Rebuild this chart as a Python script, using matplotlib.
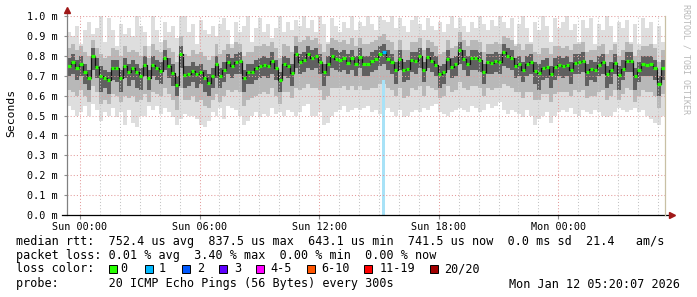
import matplotlib
matplotlib.use('Agg')
import matplotlib.pyplot as plt
import numpy as np
from matplotlib.patches import Rectangle

# ---------------- data ----------------
start_hour = -0.65          # hours relative to Sun 00:00
step_hours = 0.2            # 12 minute consolidation steps

median = [
    0.75, 0.77, 0.74, 0.76, 0.72, 0.69, 0.80, 0.745, 0.70, 0.69,
    0.68, 0.74, 0.74, 0.69, 0.75, 0.72, 0.74, 0.72, 0.70, 0.755,
    0.69, 0.755, 0.74, 0.725, 0.79, 0.75, 0.715, 0.655, 0.81, 0.705,
    0.71, 0.725, 0.71, 0.72, 0.69, 0.665, 0.70, 0.76, 0.70, 0.73,
    0.77, 0.75, 0.77, 0.775, 0.69, 0.72, 0.72, 0.74, 0.75, 0.755,
    0.75, 0.775, 0.74, 0.68, 0.76, 0.75, 0.715, 0.81, 0.77, 0.78,
    0.81, 0.79, 0.80, 0.77, 0.72, 0.76, 0.80, 0.785, 0.78, 0.79,
    0.765, 0.79, 0.76, 0.795, 0.76, 0.76, 0.775, 0.785, 0.81, 0.82,
    0.785, 0.77, 0.73, 0.785, 0.73, 0.735, 0.78, 0.775, 0.80, 0.73,
    0.795, 0.775, 0.755, 0.71, 0.72, 0.785, 0.745, 0.76, 0.83, 0.785,
    0.76, 0.79, 0.787, 0.78, 0.72, 0.77, 0.765, 0.775, 0.77, 0.82,
    0.80, 0.79, 0.75, 0.76, 0.73, 0.76, 0.77, 0.725, 0.715, 0.74,
    0.745, 0.71, 0.745, 0.755, 0.75, 0.755, 0.73, 0.765, 0.77, 0.775,
    0.72, 0.735, 0.73, 0.755, 0.77, 0.71, 0.73, 0.765, 0.705, 0.735,
    0.775, 0.775, 0.70, 0.73, 0.76, 0.754, 0.76, 0.74, 0.66, 0.74,
]

ping_min = [
    0.55, 0.53, 0.50, 0.52, 0.55, 0.50, 0.56, 0.53, 0.47, 0.52,
    0.50, 0.54, 0.49, 0.52, 0.45, 0.53, 0.46, 0.44, 0.50, 0.50,
    0.55, 0.53, 0.55, 0.51, 0.54, 0.52, 0.49, 0.45, 0.48, 0.51,
    0.50, 0.50, 0.48, 0.45, 0.44, 0.47, 0.52, 0.50, 0.54, 0.48,
    0.55, 0.54, 0.53, 0.50, 0.45, 0.47, 0.50, 0.52, 0.49, 0.51,
    0.50, 0.54, 0.51, 0.52, 0.50, 0.53, 0.52, 0.50, 0.52, 0.55,
    0.56, 0.50, 0.50, 0.52, 0.45, 0.46, 0.50, 0.52, 0.53, 0.55,
    0.52, 0.53, 0.54, 0.53, 0.54, 0.55, 0.52, 0.53, 0.51, 0.53,
    0.54, 0.52, 0.50, 0.53, 0.49, 0.50, 0.52, 0.53, 0.52, 0.54,
    0.53, 0.55, 0.56, 0.52, 0.51, 0.50, 0.52, 0.53, 0.54, 0.53,
    0.52, 0.55, 0.54, 0.52, 0.53, 0.56, 0.54, 0.55, 0.57, 0.53,
    0.51, 0.53, 0.52, 0.51, 0.49, 0.53, 0.50, 0.45, 0.48, 0.50,
    0.52, 0.46, 0.50, 0.52, 0.53, 0.52, 0.54, 0.51, 0.50, 0.53,
    0.52, 0.51, 0.53, 0.52, 0.50, 0.49, 0.50, 0.52, 0.54, 0.53,
    0.52, 0.53, 0.54, 0.52, 0.53, 0.50, 0.48, 0.46, 0.45, 0.50,
]

ping_max = [
    0.92, 0.90, 0.95, 0.86, 0.93, 0.97, 0.91, 0.94, 1.00, 0.87,
    0.99, 0.93, 0.85, 0.96, 0.91, 0.94, 0.90, 1.00, 0.95, 0.92,
    0.85, 1.00, 0.93, 0.87, 0.97, 0.92, 0.95, 0.89, 1.00, 1.00,
    0.92, 0.96, 0.86, 0.98, 0.93, 0.91, 0.95, 0.90, 0.96, 0.99,
    0.93, 0.86, 0.97, 0.92, 0.95, 1.00, 0.87, 0.94, 0.99, 0.92,
    0.96, 0.89, 0.94, 1.00, 0.92, 0.97, 0.93, 0.98, 0.95, 1.00,
    0.94, 0.98, 0.92, 1.00, 0.96, 0.87, 0.99, 0.95, 0.92, 0.97,
    0.94, 1.00, 0.93, 0.97, 0.95, 1.00, 0.96, 0.93, 1.00, 0.98,
    0.97, 1.00, 0.94, 0.99, 0.95, 0.92, 0.98, 1.00, 0.96, 0.93,
    0.99, 0.95, 0.93, 0.97, 0.92, 0.96, 1.00, 0.94, 0.99, 0.95,
    0.92, 0.97, 0.94, 1.00, 0.96, 0.93, 0.98, 0.95, 1.00, 0.97,
    0.94, 0.99, 0.86, 0.96, 1.00, 0.94, 0.87, 0.97, 0.93, 1.00,
    0.95, 0.87, 0.99, 0.94, 0.97, 1.00, 0.93, 0.96, 0.87, 0.98,
    0.94, 0.99, 0.86, 0.96, 0.93, 1.00, 0.95, 0.87, 0.97, 0.94,
    0.98, 0.87, 0.96, 0.86, 0.99, 0.94, 0.97, 0.86, 0.95, 0.87,
]

smoke_mid_hi = [
    0.84, 0.86, 0.83, 0.85, 0.82, 0.80, 0.88, 0.84, 0.81, 0.79,
    0.80, 0.84, 0.83, 0.80, 0.85, 0.82, 0.83, 0.82, 0.80, 0.85,
    0.79, 0.86, 0.83, 0.82, 0.88, 0.84, 0.82, 0.77, 0.90, 0.81,
    0.80, 0.83, 0.81, 0.82, 0.80, 0.78, 0.80, 0.86, 0.81, 0.83,
    0.86, 0.84, 0.87, 0.86, 0.80, 0.82, 0.82, 0.85, 0.85, 0.86,
    0.85, 0.87, 0.84, 0.79, 0.86, 0.85, 0.82, 0.90, 0.87, 0.88,
    0.90, 0.88, 0.89, 0.86, 0.82, 0.86, 0.89, 0.88, 0.87, 0.88,
    0.86, 0.89, 0.85, 0.89, 0.86, 0.86, 0.87, 0.88, 0.90, 0.91,
    0.88, 0.87, 0.83, 0.88, 0.83, 0.83, 0.87, 0.87, 0.89, 0.83,
    0.88, 0.87, 0.85, 0.81, 0.82, 0.88, 0.84, 0.85, 0.92, 0.88,
    0.85, 0.88, 0.88, 0.87, 0.82, 0.86, 0.86, 0.87, 0.86, 0.90,
    0.89, 0.88, 0.85, 0.86, 0.83, 0.86, 0.86, 0.82, 0.81, 0.84,
    0.84, 0.81, 0.85, 0.85, 0.84, 0.85, 0.83, 0.86, 0.86, 0.87,
    0.82, 0.83, 0.83, 0.85, 0.86, 0.81, 0.83, 0.86, 0.80, 0.83,
    0.87, 0.86, 0.80, 0.83, 0.85, 0.85, 0.86, 0.84, 0.77, 0.83,
]

smoke_mid_lo = [
    0.63, 0.62, 0.60, 0.63, 0.60, 0.57, 0.65, 0.62, 0.56, 0.58,
    0.56, 0.61, 0.60, 0.57, 0.60, 0.59, 0.60, 0.57, 0.58, 0.61,
    0.57, 0.62, 0.61, 0.60, 0.64, 0.61, 0.58, 0.53, 0.64, 0.58,
    0.58, 0.60, 0.57, 0.58, 0.55, 0.54, 0.58, 0.61, 0.57, 0.60,
    0.63, 0.62, 0.63, 0.62, 0.55, 0.58, 0.59, 0.60, 0.61, 0.62,
    0.61, 0.64, 0.60, 0.56, 0.62, 0.62, 0.59, 0.64, 0.63, 0.64,
    0.66, 0.64, 0.64, 0.63, 0.58, 0.60, 0.64, 0.64, 0.64, 0.65,
    0.63, 0.65, 0.63, 0.65, 0.63, 0.63, 0.64, 0.64, 0.66, 0.66,
    0.64, 0.63, 0.60, 0.64, 0.59, 0.60, 0.64, 0.63, 0.65, 0.60,
    0.65, 0.64, 0.63, 0.59, 0.60, 0.65, 0.62, 0.63, 0.67, 0.64,
    0.63, 0.65, 0.65, 0.64, 0.60, 0.64, 0.63, 0.64, 0.64, 0.66,
    0.65, 0.64, 0.62, 0.62, 0.59, 0.62, 0.62, 0.58, 0.58, 0.61,
    0.61, 0.57, 0.61, 0.62, 0.62, 0.62, 0.60, 0.63, 0.62, 0.63,
    0.59, 0.60, 0.60, 0.62, 0.63, 0.58, 0.60, 0.63, 0.58, 0.61,
    0.64, 0.63, 0.57, 0.60, 0.63, 0.62, 0.62, 0.60, 0.54, 0.61,
]

smoke_core_hi = [
    0.79, 0.81, 0.78, 0.80, 0.76, 0.73, 0.84, 0.79, 0.75, 0.73,
    0.72, 0.78, 0.78, 0.73, 0.79, 0.76, 0.78, 0.76, 0.74, 0.80,
    0.73, 0.80, 0.78, 0.77, 0.83, 0.79, 0.76, 0.70, 0.85, 0.75,
    0.75, 0.77, 0.75, 0.76, 0.73, 0.71, 0.74, 0.80, 0.74, 0.77,
    0.81, 0.79, 0.81, 0.82, 0.73, 0.76, 0.76, 0.78, 0.79, 0.80,
    0.79, 0.82, 0.78, 0.72, 0.80, 0.79, 0.76, 0.85, 0.81, 0.82,
    0.85, 0.83, 0.84, 0.81, 0.76, 0.80, 0.84, 0.83, 0.82, 0.83,
    0.81, 0.83, 0.80, 0.84, 0.80, 0.80, 0.82, 0.83, 0.85, 0.86,
    0.83, 0.81, 0.77, 0.83, 0.77, 0.78, 0.82, 0.82, 0.84, 0.77,
    0.84, 0.82, 0.80, 0.75, 0.76, 0.83, 0.79, 0.80, 0.87, 0.83,
    0.80, 0.83, 0.83, 0.82, 0.76, 0.81, 0.81, 0.82, 0.81, 0.86,
    0.84, 0.83, 0.79, 0.80, 0.77, 0.80, 0.81, 0.77, 0.76, 0.78,
    0.79, 0.75, 0.79, 0.80, 0.79, 0.80, 0.77, 0.81, 0.81, 0.82,
    0.76, 0.78, 0.77, 0.80, 0.81, 0.75, 0.77, 0.81, 0.75, 0.78,
    0.82, 0.82, 0.74, 0.77, 0.80, 0.80, 0.80, 0.78, 0.70, 0.78,
]

smoke_core_lo = [
    0.70, 0.71, 0.68, 0.70, 0.66, 0.63, 0.73, 0.69, 0.62, 0.64,
    0.61, 0.68, 0.67, 0.62, 0.69, 0.65, 0.68, 0.64, 0.63, 0.70,
    0.63, 0.70, 0.68, 0.66, 0.73, 0.69, 0.65, 0.60, 0.74, 0.64,
    0.65, 0.67, 0.64, 0.66, 0.62, 0.60, 0.64, 0.69, 0.64, 0.67,
    0.71, 0.69, 0.71, 0.71, 0.62, 0.66, 0.66, 0.68, 0.69, 0.70,
    0.69, 0.71, 0.68, 0.62, 0.70, 0.69, 0.65, 0.74, 0.71, 0.72,
    0.74, 0.73, 0.74, 0.71, 0.65, 0.70, 0.74, 0.73, 0.72, 0.73,
    0.71, 0.73, 0.70, 0.74, 0.70, 0.70, 0.72, 0.73, 0.75, 0.76,
    0.73, 0.71, 0.66, 0.73, 0.67, 0.68, 0.72, 0.71, 0.74, 0.67,
    0.74, 0.72, 0.70, 0.64, 0.66, 0.73, 0.69, 0.70, 0.76, 0.73,
    0.70, 0.73, 0.73, 0.72, 0.66, 0.71, 0.71, 0.72, 0.71, 0.75,
    0.74, 0.73, 0.69, 0.70, 0.67, 0.70, 0.71, 0.66, 0.63, 0.68,
    0.69, 0.64, 0.68, 0.70, 0.69, 0.70, 0.66, 0.71, 0.71, 0.72,
    0.65, 0.68, 0.67, 0.70, 0.71, 0.64, 0.66, 0.71, 0.63, 0.68,
    0.72, 0.72, 0.63, 0.67, 0.70, 0.70, 0.70, 0.68, 0.60, 0.68,
]

# packet loss events: step index, lost pings, height of loss marker bar
loss_step = [79]
loss_pings = [1]
loss_bar_top = [0.678]

loss_labels = ['0', '1', '2', '3', '4-5', '6-10', '11-19', '20/20']
loss_colors = ['#26ff00', '#00b8ff', '#0059ff', '#5e00ff', '#ff00ff',
               '#ff5500', '#ff0000', '#a10000']

ytick_values = [0.0, 0.1, 0.2, 0.3, 0.4, 0.5, 0.6, 0.7, 0.8, 0.9, 1.0]
ytick_labels = ['0.0 m', '0.1 m', '0.2 m', '0.3 m', '0.4 m', '0.5 m',
                '0.6 m', '0.7 m', '0.8 m', '0.9 m', '1.0 m']
xtick_hours = [0, 6, 12, 18, 24]
xtick_labels = ['Sun 00:00', 'Sun 06:00', 'Sun 12:00', 'Sun 18:00', 'Mon 00:00']

line_rtt = ('median rtt:  752.4 us avg  837.5 us max  643.1 us min  '
            '741.5 us now  0.0 ms sd  21.4   am/s')
line_loss = 'packet loss: 0.01 % avg  3.40 % max  0.00 % min  0.00 % now'
line_probe = 'probe:       20 ICMP Echo Pings (56 Bytes) every 300s'
stamp = 'Mon Jan 12 05:20:07 2026'

# ---------------- drawing ----------------
W, H = 697, 297
MONO = 'DejaVu Sans Mono'
plt.rcParams['font.family'] = [MONO]

fig = plt.figure(figsize=(W / 100, H / 100), dpi=100)
fig.patch.set_facecolor('white')
ax = fig.add_axes([67 / W, (H - 215) / H, (665 - 67) / W, 199 / H])
ax.set_facecolor('white')

n = len(median)
x = start_hour + step_hours * np.arange(n)
xe = np.append(x, x[-1] + step_hours)

def ext(a):
    a = np.asarray(a, dtype=float)
    return np.append(a, a[-1])

# smoke
ax.fill_between(xe, ext(ping_min), ext(ping_max), step='post',
                color='#dedede', lw=0, zorder=1)
ax.fill_between(xe, ext(smoke_mid_lo), ext(smoke_mid_hi), step='post',
                color='#b8b8b8', lw=0, zorder=2)
ax.fill_between(xe, ext(smoke_core_lo), ext(smoke_core_hi), step='post',
                color='#606060', lw=0, zorder=3)
ax.step(xe, ext(median), where='post', color='#111111', lw=0.9, zorder=4)

# loss marker bar
for s, top in zip(loss_step, loss_bar_top):
    ax.bar(x[s] + step_hours * 0.1, top, width=step_hours * 0.75,
           bottom=0, align='edge', color='#a8e2f7', lw=0, zorder=4)

# grid (drawn over the smoke like rrdtool)
for yv in ytick_values[1:]:
    ax.axhline(yv, color='#e39b9b', lw=0.75, ls=(0, (1, 2)), zorder=5)
for h in range(0, 30):
    col = '#e39b9b' if h % 6 == 0 else '#c4c4c4'
    ax.axvline(h, color=col, lw=0.75, ls=(0, (1, 2)), zorder=5)

# median coloured by loss
colors = [loss_colors[0]] * n
for s, p in zip(loss_step, loss_pings):
    colors[s] = loss_colors[p]
ax.hlines(median, x + 0.02, x + step_hours - 0.02, colors=colors,
          lw=2.3, zorder=6)

ax.set_xlim(start_hour, start_hour + step_hours * n)
ax.set_ylim(0, 1.0)

for sp in ax.spines.values():
    sp.set_visible(False)

ax.set_yticks(ytick_values)
ax.set_yticklabels(ytick_labels, family=MONO, fontsize=7.3)
ax.set_xticks(xtick_hours)
ax.set_xticklabels(xtick_labels, family=MONO, fontsize=7.3)
ax.tick_params(axis='y', length=2, color='#909090', pad=5)
ax.tick_params(axis='x', length=3, color='#909090', pad=2)

# axes with arrows
ax.plot([0, 0], [0, 1.025], transform=ax.transAxes, color='#808080',
        lw=0.9, clip_on=False, zorder=7)
ax.plot([0], [1.03], marker='^', ms=4, color='#a01818',
        transform=ax.transAxes, clip_on=False, zorder=8)
ax.plot([-0.008, 1.008], [0, 0], transform=ax.transAxes, color='black',
        lw=0.9, clip_on=False, zorder=7)
ax.plot([1.012], [0], marker='>', ms=4, color='#a01818',
        transform=ax.transAxes, clip_on=False, zorder=8)
ax.plot([1, 1], [0, 1], transform=ax.transAxes, color='#c8c0a4',
        lw=0.9, clip_on=False, zorder=7)

def fx(px):
    return px / W

def fy(py):
    return 1 - py / H

fig.text(fx(11), fy(113), 'Seconds', rotation=90, ha='center', va='center',
         family=MONO, fontsize=8.2)
fig.text(fx(686), fy(4), 'RRDTOOL / TOBI OETIKER', rotation=270,
         ha='center', va='top', family=MONO, fontsize=6.0, color='#b8b8b8')

FS = 8.5
fig.text(fx(16), fy(241), line_rtt, ha='left', va='center', family=MONO,
         fontsize=FS)
fig.text(fx(16), fy(256), line_loss, ha='left', va='center', family=MONO,
         fontsize=FS)
fig.text(fx(16), fy(269), 'loss color:', ha='left', va='center',
         family=MONO, fontsize=FS)
fig.text(fx(16), fy(284), line_probe, ha='left', va='center', family=MONO,
         fontsize=FS)
fig.text(fx(680), fy(284), stamp, ha='right', va='center', family=MONO,
         fontsize=FS)

box_x = [109, 144.5, 182, 218.7, 256, 306.7, 364, 430]
lab_x = [120, 158.7, 197, 234, 270, 321, 380, 444]
for bx, lx, c, lab in zip(box_x, lab_x, loss_colors, loss_labels):
    fig.patches.append(Rectangle((fx(bx), fy(273)), 8 / W, 8 / H,
                                 transform=fig.transFigure, facecolor=c,
                                 edgecolor='black', lw=0.7))
    fig.text(fx(lx), fy(269), lab, ha='left', va='center', family=MONO,
             fontsize=FS)

fig.savefig('out.png', dpi=100, facecolor='white')
